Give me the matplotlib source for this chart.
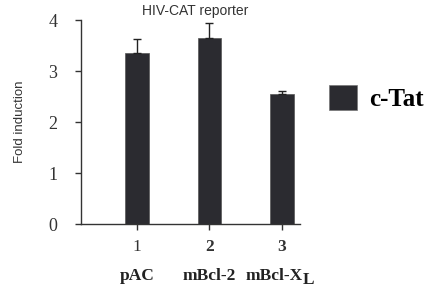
import matplotlib
matplotlib.use("Agg")
import matplotlib.pyplot as plt
from matplotlib.patches import Patch
from matplotlib.transforms import blended_transform_factory

# data
positions = [1, 2, 3]
tick_labels = ["1", "2", "3"]
constructs = ["pAC", "mBcl-2", "mBcl-X"]
fold_induction = [3.35, 3.65, 2.55]
upper_err = [0.28, 0.29, 0.07]

bar_color = "#2b2b30"
serif = "Liberation Serif"
sans = "Liberation Sans"

fig = plt.figure(figsize=(4.38, 2.88), dpi=100)
ax = fig.add_axes([0.185, 0.222, 0.5, 0.708])

ax.bar(positions, fold_induction, width=0.33, color=bar_color,
       edgecolor="#555555", linewidth=0.5, zorder=2)
ax.errorbar(positions, fold_induction, yerr=[[0, 0, 0], upper_err],
            fmt="none", ecolor="#222222", elinewidth=1.0, capsize=3,
            capthick=1.0, zorder=3)

ax.set_xlim(0.227, 3.25)
ax.set_ylim(0, 4)
ax.set_yticks([0, 1, 2, 3, 4])
ax.set_yticklabels(["0", "1", "2", "3", "4"], fontfamily=serif, fontsize=13)
ax.set_xticks(positions)
ax.set_xticklabels(tick_labels, fontfamily=serif, fontsize=12.5)
for lbl, w in zip(ax.get_xticklabels(), ["normal", "bold", "bold"]):
    lbl.set_fontweight(w)

ax.spines["top"].set_visible(False)
ax.spines["right"].set_visible(False)
for s in ("left", "bottom"):
    ax.spines[s].set_color("#333333")
    ax.spines[s].set_linewidth(1.0)
ax.tick_params(axis="y", length=4, width=1, pad=13, colors="#333333")
ax.tick_params(axis="x", length=4, width=1, pad=7, colors="#333333")

# construct names below tick numbers
trans = blended_transform_factory(ax.transData, ax.transAxes)
name_style = dict(fontfamily=serif, fontweight="bold", fontsize=12.5,
                  color="#222222", va="center")
for x, name in zip(positions[:2], constructs[:2]):
    ax.text(x, -0.255, name, transform=trans, ha="center", **name_style)
# mBcl-X with a large subscript L
ax.annotate(constructs[2], xy=(positions[2], -0.255), xycoords=trans,
            xytext=(15, 0), textcoords="offset points", ha="right",
            **name_style)
ax.annotate("L", xy=(positions[2], -0.255), xycoords=trans,
            xytext=(15, -3), textcoords="offset points", ha="left",
            **name_style)

ax.set_ylabel("Fold induction", fontfamily=sans, fontsize=9.5, labelpad=16,
              color="#333333")
ax.set_title("HIV-CAT reporter", fontfamily=sans, fontsize=10, pad=4,
             color="#333333", x=0.52)

handle = Patch(facecolor=bar_color, edgecolor="#777777", linewidth=0.5)
fig.legend([handle], ["c-Tat"], loc="center left",
           bbox_to_anchor=(0.70, 0.66), frameon=False, handlelength=1.1,
           handleheight=1.2, handletextpad=0.5,
           prop={"family": serif, "weight": "bold", "size": 18})

fig.savefig("out.png", dpi=100, facecolor="white")
